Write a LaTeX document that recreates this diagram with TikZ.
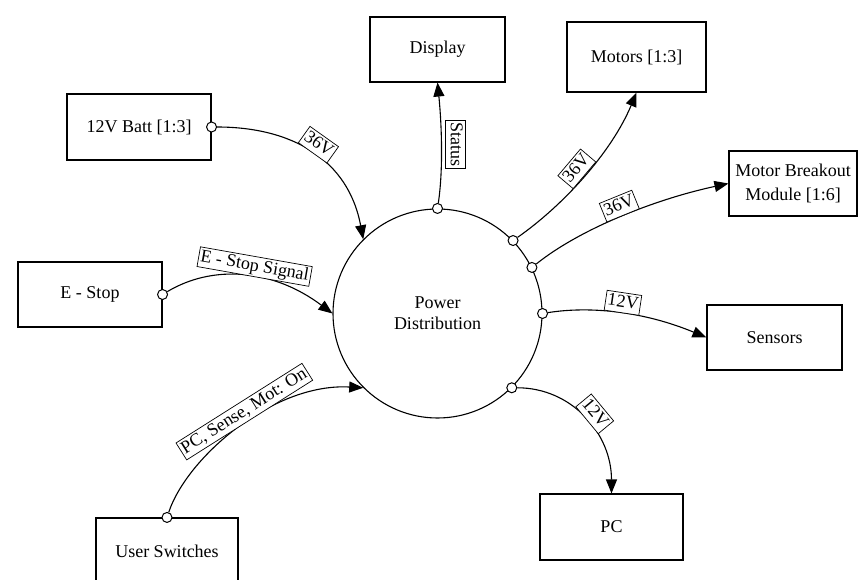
\documentclass[tikz,border=0pt]{standalone}
\usepackage{fontspec}
\setmainfont{Liberation Serif}
\usetikzlibrary{arrows.meta}

\begin{document}
\begin{tikzpicture}[x=1pt,y=1pt,
        font=\fontsize{18}{21}\selectfont, line width=1.1pt,
        blk/.style={draw, minimum height=66pt, align=center, inner sep=1pt},
        port/.style={circle, draw, fill=white, inner sep=0pt, minimum size=10pt, line width=1pt},
        lbl/.style={draw, fill=white, line width=0.7pt, inner xsep=2pt, inner ysep=1.5pt, text height=13pt, text depth=4pt},
        wire/.style={-{Triangle[length=14pt,width=11pt]}}]
        \useasboundingbox (0,0) rectangle (860,579);

        %Shape: Circle [id:pd]
        \node[circle, draw, minimum size=209pt, align=center] (pd) at (437.5,265.5) {Power\\Distribution};

        %Shape: Rectangle [id:sources]
        \node[blk, minimum width=144pt] (batt) at (139,452) {12V Batt [1:3]};
        \node[blk, minimum width=144pt, minimum height=65pt] (estop) at (90,284.5) {E - Stop};
        \node[blk, minimum width=142pt] (usw) at (167,28) {User Switches};

        %Shape: Rectangle [id:loads]
        \node[blk, minimum width=135pt, minimum height=65pt] (disp) at (437.5,529.5) {Display};
        \node[blk, minimum width=139pt, minimum height=70pt] (mot) at (636.5,522) {Motors [1:3]};
        \node[blk, minimum width=128pt, minimum height=65pt] (mbm) at (793,395.5) {Motor Breakout\\[3pt]Module [1:6]};
        \node[blk, minimum width=135pt, minimum height=65pt] (sens) at (774.5,241.5) {Sensors};
        \node[blk, minimum width=143pt] (pc) at (611.5,52) {PC};

        %Shape: Circle [id:ports]
        \node[port] (pbatt) at (batt.east) {};
        \node[port] (pestop) at (estop.east) {};
        \node[port] (pusw) at (usw.north) {};
        \node[port] (pdisp) at (pd.90) {};
        \node[port] (pmot) at (pd.44) {};
        \node[port] (pmbm) at (pd.26) {};
        \node[port] (psens) at (pd.0) {};
        \node[port] (ppc) at (pd.-45) {};

        %Curve Lines: inputs
        \draw[wire] (pbatt) .. controls +(80,0) and +(-15,80) .. (pd.135) node[lbl, sloped, above, pos=0.5] {36V};
        \draw[wire] (pestop) .. controls +(50,30) and +(-60,45) .. (pd.180) node[lbl, sloped, above, pos=0.55] {E - Stop Signal};
        \draw[wire] (pusw) .. controls +(20,60) and +(-90,5) .. (pd.225) node[lbl, sloped, above, pos=0.55] {PC, Sense, Mot: On};

        %Curve Lines: outputs
        \draw[wire] (pdisp) .. controls +(6,40) and +(4,-40) .. (disp.south) node[lbl, rotate=-90, anchor=south, outer sep=4pt, pos=0.5] {Status};
        \draw[wire] (pmot) .. controls +(50,35) and +(-25,-60) .. (mot.south) node[lbl, sloped, above, pos=0.5] {36V};
        \draw[wire] (pmbm) .. controls +(50,40) and +(-70,-15) .. (mbm.west) node[lbl, sloped, above, pos=0.5] {36V};
        \draw[wire] (psens) .. controls +(50,8) and +(-60,25) .. (sens.west) node[lbl, sloped, above, pos=0.5] {12V};
        \draw[wire] (ppc) .. controls +(60,0) and +(0,60) .. (pc.north) node[lbl, sloped, above, pos=0.52] {12V};
\end{tikzpicture}
\end{document}
